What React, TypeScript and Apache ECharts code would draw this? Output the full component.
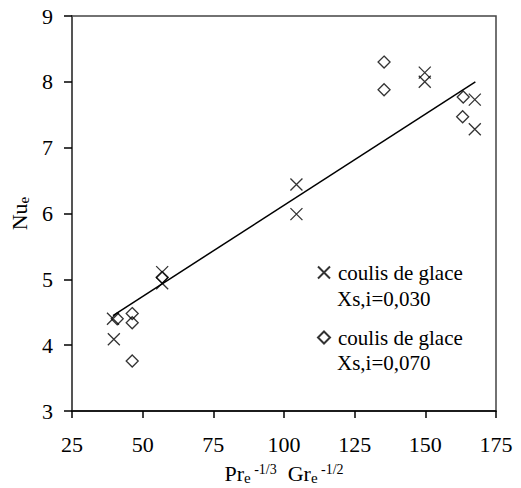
import React, { useEffect, useRef } from "react";
import * as echarts from "echarts";

const crossX = [39.5, 39.8, 56.9, 56.9, 104.4, 104.4, 149.8, 149.8, 167.5, 167.5];
const crossY = [4.40, 4.09, 5.11, 4.94, 6.44, 5.99, 8.14, 8.00, 7.73, 7.28];
const diamondX = [41.0, 46.3, 46.3, 46.3, 56.9, 135.4, 135.4, 163.4, 163.2];
const diamondY = [4.40, 4.48, 4.34, 3.76, 5.03, 8.30, 7.88, 7.77, 7.47];
const fitX = [39.5, 167.7];
const fitY = [4.45, 8.0];
const seriesNames = ["coulis de glace Xs,i=0,030", "coulis de glace Xs,i=0,070"];
const legendLine1 = "coulis de glace";
const legendLine2 = ["Xs,i=0,030", "Xs,i=0,070"];

const CROSS = "path://M0,0L12,12M12,0L0,12";
const FONT = "Liberation Serif, serif";

export default function App() {
  const ref = useRef<HTMLDivElement>(null);
  useEffect(() => {
    if (!ref.current) return;
    const chart = echarts.init(ref.current, undefined, { renderer: "svg" });
    const zip = (xs: number[], ys: number[]) => xs.map((x, i) => [x, ys[i]]);
    const sub = { fontSize: 15, fontFamily: FONT, color: "#000", padding: [8, 0, 0, 0] };
    const sup = { fontSize: 14, fontFamily: FONT, color: "#000", padding: [0, 0, 8, 0] };
    const m = { fontSize: 22, fontFamily: FONT, color: "#000" };
    chart.setOption({
      animation: false,
      textStyle: { fontFamily: FONT, color: "#000" },
      grid: {
        left: 72, right: 25, top: 16, bottom: 77,
        containLabel: false, outerBoundsMode: "none",
        show: true, borderColor: "#444", borderWidth: 1.5,
      },
      xAxis: {
        type: "value",
        min: 25,
        max: 175,
        interval: 25,
        axisLine: { show: true, onZero: false, lineStyle: { color: "#000", width: 1.5 } },
        axisTick: { show: true, inside: false, length: 7, lineStyle: { color: "#000", width: 1.5 } },
        axisLabel: { fontSize: 22, color: "#000", margin: 22, fontFamily: FONT },
        splitLine: { show: false },
        name: "{m|Pr}{sub|e}{sup| -1/3}  {m|Gr}{sub|e}{sup| -1/2}",
        nameLocation: "middle",
        nameGap: 51,
        nameTextStyle: { fontSize: 22, fontFamily: FONT, color: "#000", rich: { m, sub, sup } },
      },
      yAxis: {
        type: "value",
        min: 3,
        max: 9,
        interval: 1,
        axisLine: { show: true, lineStyle: { color: "#555", width: 2 } },
        axisTick: { show: true, inside: false, length: 8, lineStyle: { color: "#000", width: 1.5 } },
        axisLabel: { fontSize: 22, color: "#000", margin: 19, fontFamily: FONT },
        splitLine: { show: false },
        name: "{m|Nu}{sub|e}",
        nameLocation: "middle",
        nameGap: 40,
        nameRotate: 90,
        nameTextStyle: { fontSize: 22, fontFamily: FONT, color: "#000", rich: { m, sub } },
      },
      legend: {
        show: true,
        orient: "vertical",
        left: 317,
        top: 262,
        padding: 0,
        itemWidth: 12,
        itemHeight: 12,
        itemGap: 44,
        data: [
          { name: seriesNames[0], icon: CROSS },
          { name: seriesNames[1], icon: "diamond" },
        ],
        formatter: () => legendLine1,
        textStyle: { fontSize: 21, lineHeight: 21, fontFamily: FONT, color: "#000", padding: [0, 0, 0, 3] },
      },
      graphic: [
        { type: "text", left: 337, top: 288, style: { text: legendLine2[0], font: `21px ${FONT}`, fill: "#000" } },
        { type: "text", left: 337, top: 352, style: { text: legendLine2[1], font: `21px ${FONT}`, fill: "#000" } },
      ],
      series: [
        {
          name: "fit",
          type: "line",
          data: zip(fitX, fitY),
          showSymbol: false,
          symbol: "none",
          lineStyle: { color: "#000", width: 1.5 },
          silent: true,
          z: 1,
        },
        {
          name: seriesNames[0],
          type: "scatter",
          data: zip(crossX, crossY),
          symbol: CROSS,
          symbolSize: 12,
          itemStyle: { color: "rgba(0,0,0,0)", borderColor: "#000", borderWidth: 1.3 },
          z: 3,
        },
        {
          name: seriesNames[1],
          type: "scatter",
          data: zip(diamondX, diamondY),
          symbol: "diamond",
          symbolSize: 12,
          itemStyle: { color: "rgba(0,0,0,0)", borderColor: "#000", borderWidth: 1.3 },
          z: 3,
        },
      ],
    });
    return () => chart.dispose();
  }, []);
  return <div ref={ref} style={{ position: "absolute", left: 0, top: 0, width: 521, height: 488 }} />;
}
